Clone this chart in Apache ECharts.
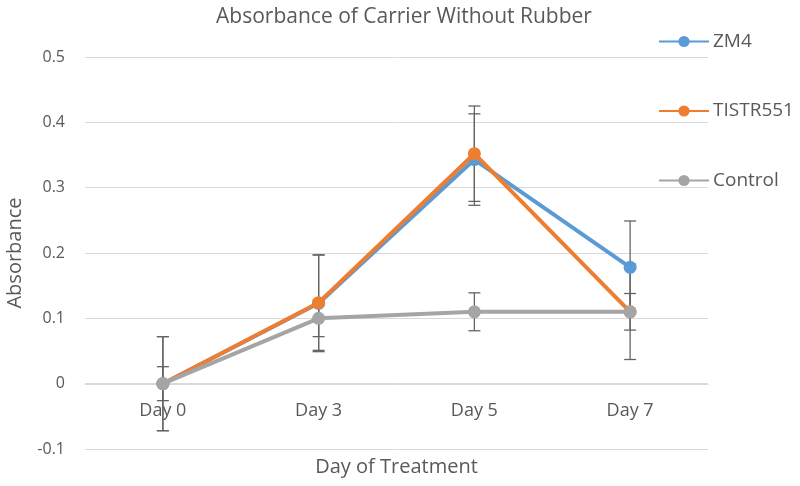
<!DOCTYPE html>
<html>
<head>
<meta charset="utf-8">
<script src="https://cdn.jsdelivr.net/npm/echarts@6/dist/echarts.min.js"></script>
<style>html,body{margin:0;padding:0;background:#fff;}#c{width:800px;height:486px;}</style>
</head>
<body>
<div id="c"></div>
<script>
var categories = ['Day 0', 'Day 3', 'Day 5', 'Day 7'];
var zm4 = [0, 0.123, 0.343, 0.178];
var tistr551 = [0, 0.124, 0.352, 0.110];
var control = [0, 0.100, 0.110, 0.110];
var zm4Err = [0.072, 0.074, 0.070, 0.071];
var tistrErr = [0.072, 0.073, 0.073, 0.073];
var controlErr = [0.026, 0.028, 0.029, 0.028];

var FONT = 'Open Sans';
var TXT = '#595959';

function errData(vals, errs) {
  return vals.map(function (v, i) { return [i, v, errs[i]]; });
}
function errRender(params, api) {
  var x = api.value(0), y = api.value(1), e = api.value(2);
  var top = api.coord([x, y + e]);
  var bot = api.coord([x, y - e]);
  var cw = 6;
  var st = { stroke: '#646464', lineWidth: 1.3 };
  return {
    type: 'group',
    children: [
      { type: 'line', shape: { x1: top[0], y1: top[1], x2: bot[0], y2: bot[1] }, style: st },
      { type: 'line', shape: { x1: top[0] - cw, y1: top[1], x2: top[0] + cw, y2: top[1] }, style: st },
      { type: 'line', shape: { x1: bot[0] - cw, y1: bot[1], x2: bot[0] + cw, y2: bot[1] }, style: st }
    ]
  };
}
function lineSeries(name, data, color, z) {
  return {
    name: name, type: 'line', data: data, z: z,
    symbol: 'circle', symbolSize: 13,
    lineStyle: { color: color, width: 4 },
    itemStyle: { color: color },
    emphasis: { disabled: true },
    animation: false
  };
}
function errSeries(data, z) {
  return { type: 'custom', renderItem: errRender, data: data, z: z, animation: false, silent: true };
}

var chart = echarts.init(document.getElementById('c'));
chart.setOption({
  backgroundColor: '#fff',
  title: {
    text: 'Absorbance of Carrier Without Rubber',
    left: 399, top: 2, textAlign: 'center',
    textStyle: { fontFamily: FONT, fontSize: 21, fontWeight: 'normal', color: TXT }
  },
  legend: {
    orient: 'vertical', left: 658, top: 32, padding: 0,
    itemWidth: 50, itemHeight: 14, itemGap: 50.5,
    data: ['ZM4', 'TISTR551', 'Control'],
    textStyle: { fontFamily: FONT, fontSize: 19, lineHeight: 14, color: TXT, padding: [0, 0, 0, -1] }
  },
  grid: { left: 85, right: 92, top: 57, bottom: 37, outerBoundsMode: 'none', containLabel: false },
  xAxis: {
    type: 'category', data: categories, boundaryGap: true,
    offset: -65,
    name: 'Day of Treatment', nameLocation: 'middle', nameGap: 73,
    nameTextStyle: { fontFamily: FONT, fontSize: 20, color: TXT },
    axisLine: { onZero: false, lineStyle: { color: '#d9d9d9', width: 1 } },
    axisTick: { show: false },
    axisLabel: { fontFamily: FONT, fontSize: 18, color: TXT, margin: 18 }
  },
  yAxis: {
    type: 'value', min: -0.1, max: 0.5, interval: 0.1,
    name: 'Absorbance', nameLocation: 'middle', nameGap: 60, nameRotate: 90,
    nameTextStyle: { fontFamily: FONT, fontSize: 20, color: TXT },
    axisLine: { show: false }, axisTick: { show: false },
    splitLine: { lineStyle: { color: '#d9d9d9', width: 1 } },
    axisLabel: {
      fontFamily: FONT, fontSize: 16, color: TXT, margin: 20,
      formatter: function (v) { return String(Math.round(v * 10) / 10); }
    }
  },
  series: [
    errSeries(errData(zm4, zm4Err), 1),
    errSeries(errData(tistr551, tistrErr), 1),
    errSeries(errData(control, controlErr), 1),
    lineSeries('ZM4', zm4, '#5B9BD5', 2),
    lineSeries('TISTR551', tistr551, '#ED7D31', 3),
    lineSeries('Control', control, '#A5A5A5', 4)
  ]
});
</script>
</body>
</html>
